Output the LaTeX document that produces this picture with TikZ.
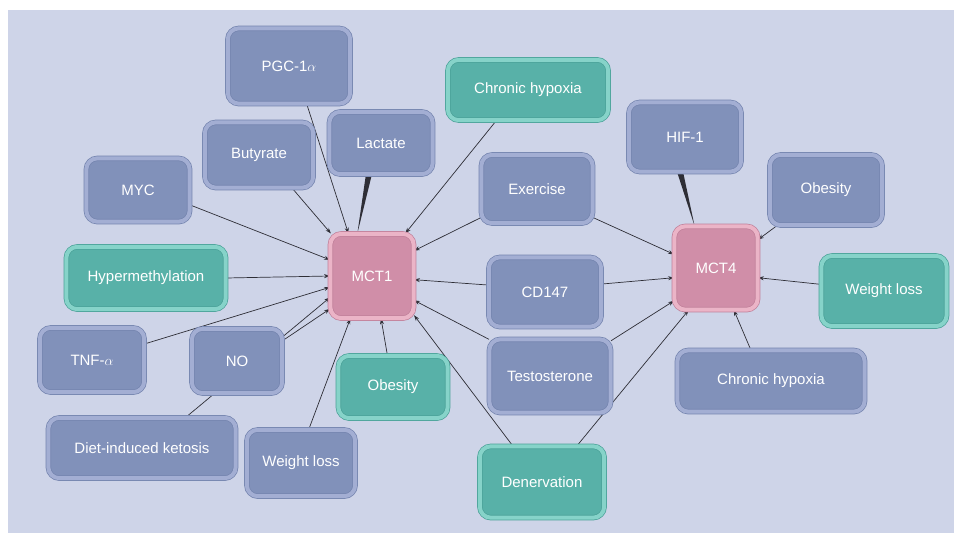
\documentclass[tikz,border=0pt]{standalone}
\usepackage{fontspec}
\setmainfont{Liberation Sans}
\usetikzlibrary{arrows.meta,calc}
\definecolor{MTBack}{HTML}{CED4E8}
\definecolor{MTBlue}{HTML}{8191BA}
\definecolor{MTBlueRim}{HTML}{A3AED3}
\definecolor{MTBlueDark}{HTML}{7484AE}
\definecolor{MTTeal}{HTML}{58B1A8}
\definecolor{MTTealRim}{HTML}{86D3C9}
\definecolor{MTTealDark}{HTML}{4AA198}
\definecolor{MTPink}{HTML}{D08EA8}
\definecolor{MTPinkRim}{HTML}{EBB4C7}
\definecolor{MTPinkDark}{HTML}{C0809A}
\definecolor{MTLine}{HTML}{2E2E36}
\pgfdeclarelayer{back}
\pgfdeclarelayer{edges}
\pgfsetlayers{back,edges,main}
\tikzset{
  mtbox/.style={rounded corners=0.33cm,line width=0.6pt,double distance=3.4pt,text=white,
    inner sep=0pt,font=\fontsize{12.8}{15}\selectfont},
  bluebox/.style={mtbox,draw=MTBlueDark,double=MTBlueRim,fill=MTBlue},
  tealbox/.style={mtbox,draw=MTTealDark,double=MTTealRim,fill=MTTeal},
  pinkbox/.style={mtbox,draw=MTPinkDark,double=MTPinkRim,fill=MTPink},
  link/.style={draw=MTLine,line width=0.6pt,-{Stealth[length=5pt,width=3.4pt]}},
  tapered/.style={fill=MTLine},
}

\begin{document}
\begin{tikzpicture}[x=0.03cm,y=-0.03cm]
\path[use as bounding box] (0,0) rectangle (954,533);
\begin{pgfonlayer}{back}
\fill[white] (0,0) rectangle (954,533);
\fill[MTBack] (8,10) rectangle (954,533);
\end{pgfonlayer}
% transporters
\node[pinkbox,minimum width=2.5cm,minimum height=2.53cm] (MCTone) at (372,276) {MCT1};
\node[pinkbox,minimum width=2.5cm,minimum height=2.5cm] (MCTfour) at (716,268) {MCT4};
% regulators
\node[bluebox,minimum width=3.67cm,minimum height=2.26cm] (PGC) at (289,66) {PGC-1$\alpha$};
\node[bluebox,minimum width=3.10cm,minimum height=1.87cm] (Lactate) at (381,143) {Lactate};
\node[bluebox,minimum width=3.25cm,minimum height=1.96cm] (Butyrate) at (259,155) {Butyrate};
\node[bluebox,minimum width=3.10cm,minimum height=1.90cm] (MYC) at (138,190) {MYC};
\node[tealbox,minimum width=4.81cm,minimum height=1.81cm] (ChronicTop) at (528,90) {Chronic hypoxia};
\node[bluebox,minimum width=3.34cm,minimum height=2.05cm] (Exercise) at (537,189) {Exercise};
\node[bluebox,minimum width=3.37cm,minimum height=2.08cm] (HIF) at (685,137) {HIF-1};
\node[bluebox,minimum width=3.37cm,minimum height=2.11cm] (ObesityR) at (826,190) {Obesity};
\node[tealbox,minimum width=3.76cm,minimum height=2.11cm] (WeightR) at (884,291) {Weight loss};
\node[tealbox,minimum width=4.78cm,minimum height=1.87cm] (Hyper) at (146,278) {Hypermethylation};
\node[bluebox,minimum width=3.37cm,minimum height=2.08cm] (CD) at (545,292) {CD147};
\node[bluebox,minimum width=3.13cm,minimum height=1.93cm] (TNF) at (92,360) {TNF-$\alpha$};
\node[bluebox,minimum width=2.71cm,minimum height=1.93cm] (NO) at (237,361) {NO};
\node[tealbox,minimum width=3.28cm,minimum height=1.87cm] (ObesityB) at (393,387) {Obesity};
\node[bluebox,minimum width=3.64cm,minimum height=2.20cm] (Testo) at (550,376) {Testosterone};
\node[bluebox,minimum width=5.62cm,minimum height=1.84cm] (ChronicB) at (771,381) {Chronic hypoxia};
\node[bluebox,minimum width=5.62cm,minimum height=1.81cm] (Diet) at (142,448) {Diet-induced ketosis};
\node[bluebox,minimum width=3.25cm,minimum height=1.99cm] (WeightB) at (301,463) {Weight loss};
\node[tealbox,minimum width=3.73cm,minimum height=2.14cm] (Dener) at (542,482) {Denervation};
\begin{pgfonlayer}{edges}
% into MCT1
\draw[link] (PGC.295) -- (MCTone.119);
\draw[link] (Butyrate.315) -- (MCTone.134);
\draw[link] (MYC.344) -- (MCTone.159);
\draw[link] (ChronicTop.224) -- (MCTone.52);
\draw[link] (Exercise.207) -- (MCTone.31);
\draw[link] (Hyper.east) -- (MCTone.180);
\draw[link] (TNF.17) -- (MCTone.195);
\draw[link] (Diet.35) -- (MCTone.207);
\draw[link] (NO.24) -- (MCTone.218);
\draw[link] (WeightB.77) -- (MCTone.243);
\draw[link] (ObesityB.100) -- (MCTone.282);
\draw[link] (CD.173) -- (MCTone.355);
\draw[link] (Testo.149) -- (MCTone.330);
\draw[link] (Dener.129) -- (MCTone.317);
\fill[tapered] ($(Lactate.249)+(-3,0)$) -- ($(Lactate.249)+(3,0)$) -- (MCTone.109) -- cycle;
% into MCT4
\draw[link] (Exercise.333) -- (MCTfour.162);
\draw[link] (CD.8) -- (MCTfour.193);
\draw[link] (Testo.30) -- (MCTfour.218);
\draw[link] (Dener.46) -- (MCTfour.237);
\draw[link] (ObesityR.216) -- (MCTfour.34);
\draw[link] (WeightR.174) -- (MCTfour.347);
\draw[link] (ChronicB.123) -- (MCTfour.293);
\fill[tapered] ($(HIF.262)+(-3,0)$) -- ($(HIF.262)+(3,0)$) -- (MCTfour.117) -- cycle;
\end{pgfonlayer}
\end{tikzpicture}
\end{document}
